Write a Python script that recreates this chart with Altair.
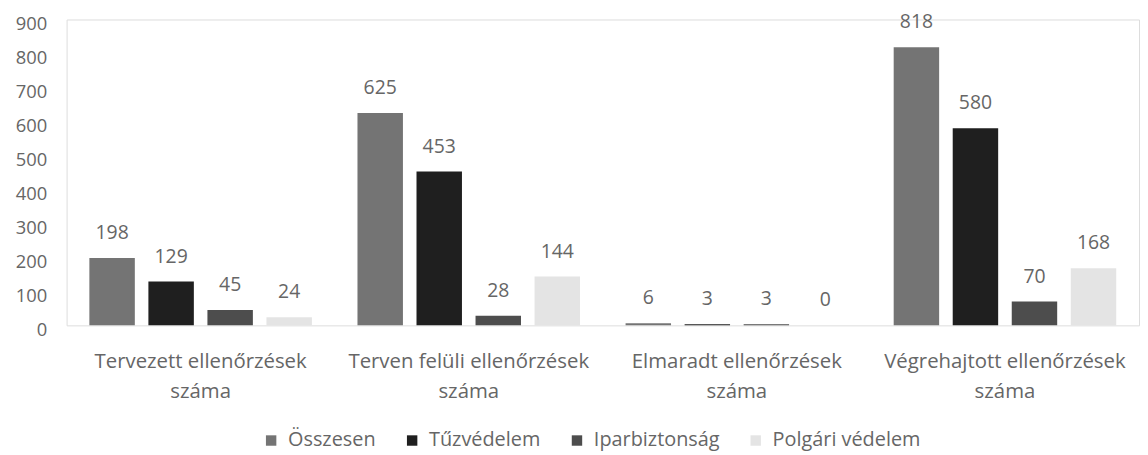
import altair as alt
import pandas as pd

categories = [
    "Tervezett ellenőrzések száma",
    "Terven felüli ellenőrzések száma",
    "Elmaradt ellenőrzések száma",
    "Végrehajtott ellenőrzések száma",
]
series = ["Összesen", "Tűzvédelem", "Iparbiztonság", "Polgári védelem"]
values = {
    "Összesen": [198, 625, 6, 818],
    "Tűzvédelem": [129, 453, 3, 580],
    "Iparbiztonság": [45, 28, 3, 70],
    "Polgári védelem": [24, 144, 0, 168],
}
colors = ["#747474", "#1f1f1f", "#4d4d4d", "#e4e4e4"]
y_ticks = [0, 100, 200, 300, 400, 500, 600, 700, 800, 900]

rows = []
for s in series:
    for c, v in zip(categories, values[s]):
        rows.append({"cat": c, "series": s, "value": v})
df = pd.DataFrame(rows)

FONT = "Open Sans"
GRAY = "#666666"

x = alt.X(
    "cat:N",
    sort=categories,
    title=None,
    scale=alt.Scale(paddingInner=0.17, paddingOuter=0.085),
    axis=alt.Axis(
        labelAngle=0,
        domain=False,
        ticks=False,
        grid=False,
        labelPadding=26,
        labelFontSize=20.5,
        labelFont=FONT,
        labelColor=GRAY,
        labelLineHeight=31,
        labelLimit=400,
        labelExpr="[slice(datum.label, 0, length(datum.label) - 6), 'száma']",
    ),
)
xoff = alt.XOffset("series:N", sort=series, scale=alt.Scale(paddingInner=0.23, paddingOuter=0))
y = alt.Y(
    "value:Q",
    title=None,
    scale=alt.Scale(domain=[0, 900], nice=False),
    axis=alt.Axis(
        values=y_ticks,
        grid=False,
        domain=False,
        ticks=False,
        labelPadding=20,
        labelOffset=4,
        labelFontSize=18.5,
        labelFont=FONT,
        labelColor=GRAY,
    ),
)

bars = alt.Chart(df).mark_bar().encode(
    x=x,
    xOffset=xoff,
    y=y,
    color=alt.Color(
        "series:N",
        sort=series,
        scale=alt.Scale(domain=series, range=colors),
        legend=alt.Legend(
            title=None,
            orient="none",
            direction="horizontal",
            legendX=196,
            legendY=414,
            symbolType="square",
            symbolSize=110,
            symbolStrokeWidth=0,
            labelFontSize=20,
            labelFont=FONT,
            labelColor=GRAY,
            columnPadding=26,
            labelOffset=7,
        ),
    ),
)

labels = alt.Chart(df).mark_text(
    baseline="middle", dy=-25, fontSize=19.5, font=FONT, color=GRAY
).encode(x=x, xOffset=xoff, y=y, text=alt.Text("value:Q"))

chart = (
    alt.layer(bars, labels)
    .properties(
        width=1080,
        height=308,
        autosize=alt.AutoSizeParams(type="none"),
        padding={"left": 59, "top": 10, "right": 1, "bottom": 129},
    )
    .configure_view(stroke="transparent", strokeWidth=0)
    .configure_axis(domain=False, grid=False, ticks=False)
    .configure(background="white")
)

chart.save("out.html", embed_options={"renderer": "svg", "actions": False})
